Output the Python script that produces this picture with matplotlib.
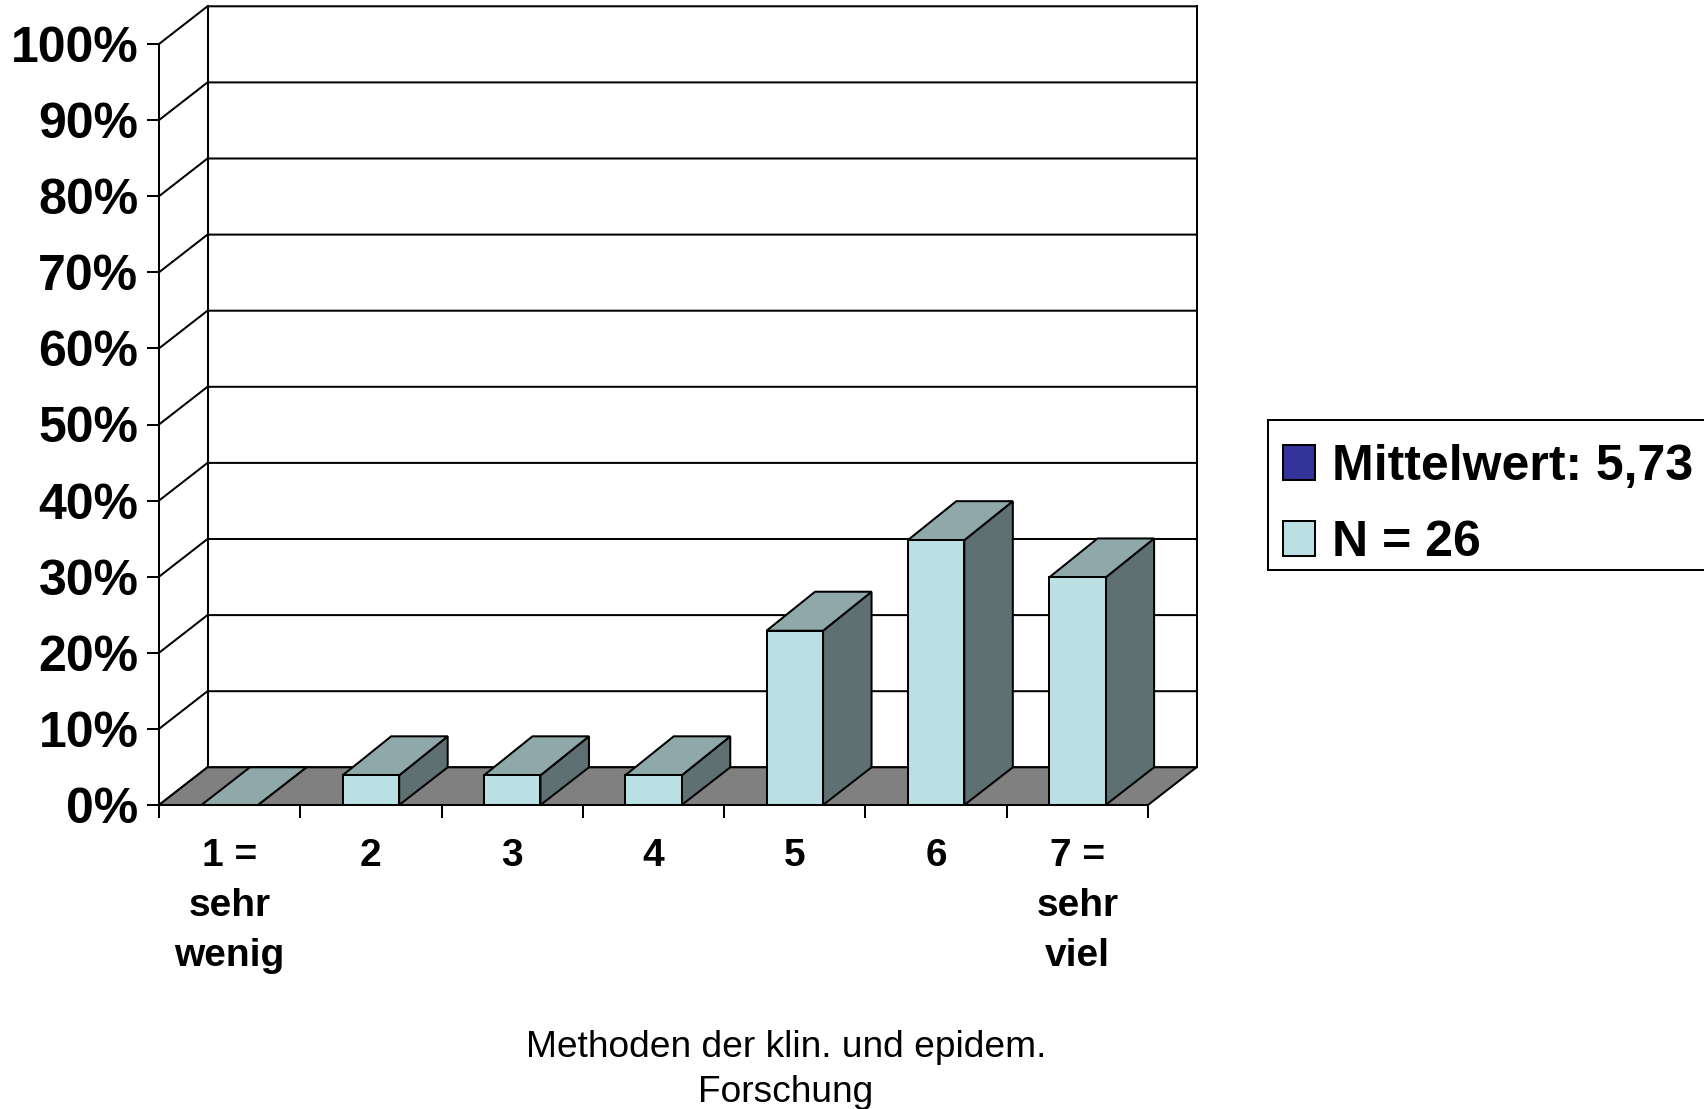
"""Recreate the 3D-look bar chart with plain 2D matplotlib polygons."""
import matplotlib
matplotlib.use("Agg")
import matplotlib.pyplot as plt
from matplotlib.patches import Patch, Polygon, Rectangle

CATEGORIES = ["1 =\nsehr\nwenig", "2", "3", "4", "5", "6", "7 =\nsehr\nviel"]
VALUES = [0.0, 3.9, 3.9, 3.9, 22.9, 34.8, 29.9]
Y_TICKS = [0, 10, 20, 30, 40, 50, 60, 70, 80, 90, 100]
Y_LABELS = ["0%", "10%", "20%", "30%", "40%", "50%", "60%", "70%", "80%", "90%", "100%"]
LEGEND_LABELS = ["Mittelwert: 5,73", "N = 26"]
TITLE = "Methoden der klin. und epidem.\nForschung"

W, H = 1704, 1109
AX_LEFT, AX_RIGHT = 159, 1148
AX_TOP, AX_BOTTOM = 44, 805

# depth of the fake 3D box, in data units
DX = 48.5 / ((AX_RIGHT - AX_LEFT) / 7)
DY = 37.7 / ((AX_BOTTOM - AX_TOP) / 100)
BAR_DY = 39.0 / ((AX_BOTTOM - AX_TOP) / 100)
BAR_WIDTH = 0.4
LW = 1.45

FRONT = "#BAE0E3"
TOP = "#8FA8AA"
SIDE = "#5F7072"
FLOOR = "#808080"
DARK = "#333399"

plt.rcParams["font.family"] = ["Liberation Sans", "DejaVu Sans"]


def poly(ax, pts, color, z):
    ax.add_patch(Polygon(pts, closed=True, facecolor=color, edgecolor="black",
                         linewidth=LW, joinstyle="miter", clip_on=False, zorder=z))


def draw_walls(ax):
    for t in Y_TICKS:
        ax.plot([0, DX, 7 + DX], [t, t + DY, t + DY], color="black", lw=LW,
                clip_on=False, zorder=1)
    ax.plot([DX, DX], [DY, 100 + DY], color="black", lw=LW, clip_on=False, zorder=1)
    ax.plot([7 + DX, 7 + DX], [DY, 100 + DY], color="black", lw=LW, clip_on=False, zorder=1)
    poly(ax, [(0, 0), (7, 0), (7 + DX, DY), (DX, DY)], FLOOR, 2)


def draw_bar(ax, center, value, z):
    x0, x1 = center - BAR_WIDTH / 2, center + BAR_WIDTH / 2
    # an empty category is only a flat patch lying on the floor
    dy = BAR_DY if value > 0 else DY
    poly(ax, [(x1, 0), (x1 + DX, DY), (x1 + DX, value + dy), (x1, value)], SIDE, z)
    poly(ax, [(x0, value), (x1, value), (x1 + DX, value + dy), (x0 + DX, value + dy)], TOP, z)
    if value > 0:
        poly(ax, [(x0, 0), (x1, 0), (x1, value), (x0, value)], FRONT, z)


def main():
    fig = plt.figure(figsize=(W / 100, H / 100), dpi=100)
    ax = fig.add_axes([AX_LEFT / W, 1 - AX_BOTTOM / H,
                       (AX_RIGHT - AX_LEFT) / W, (AX_BOTTOM - AX_TOP) / H])
    ax.set_xlim(0, 7)
    ax.set_ylim(0, 100)
    ax.patch.set_visible(False)
    for name in ("top", "right"):
        ax.spines[name].set_visible(False)
    for name in ("left", "bottom"):
        ax.spines[name].set_linewidth(LW)
        ax.spines[name].set_zorder(8)

    draw_walls(ax)
    for i, value in enumerate(VALUES):
        draw_bar(ax, i + 0.5, value, 3 + i * 0.1)

    ax.set_yticks(Y_TICKS, labels=Y_LABELS, fontsize=36, fontweight="bold")
    ax.tick_params(axis="y", length=8.6, width=LW, pad=6.2)
    ax.set_xticks(range(8), labels=[""] * 8)
    ax.tick_params(axis="x", which="major", length=9, width=LW)
    ax.set_xticks([i + 0.5 for i in range(7)], labels=CATEGORIES, minor=True,
                  fontsize=28, fontweight="bold", linespacing=1.5)
    ax.tick_params(axis="x", which="minor", length=0, pad=24)

    # frame is separate: the reference has more room above the rows than below
    fig.add_artist(Rectangle((1268 / W, 1 - 570 / H), 440 / W, 150 / H,
                             transform=fig.transFigure, facecolor="white",
                             edgecolor="black", linewidth=LW))
    handles = [Patch(facecolor=DARK, edgecolor="black", linewidth=LW),
               Patch(facecolor=FRONT, edgecolor="black", linewidth=LW)]
    fig.legend(handles, LEGEND_LABELS, loc="upper left",
               bbox_to_anchor=(1268 / W, 1 - 429 / H), borderaxespad=0,
               prop={"size": 36, "weight": "bold"}, frameon=False,
               handlelength=0.64, handleheight=0.68,
               handletextpad=0.35, labelspacing=0.6, borderpad=0.3)

    fig.text(786 / W, 1 - 1070 / H, TITLE, ha="center", va="center", fontsize=26.7,
             linespacing=1.38)
    fig.savefig("out.png", dpi=100)


if __name__ == "__main__":
    main()
